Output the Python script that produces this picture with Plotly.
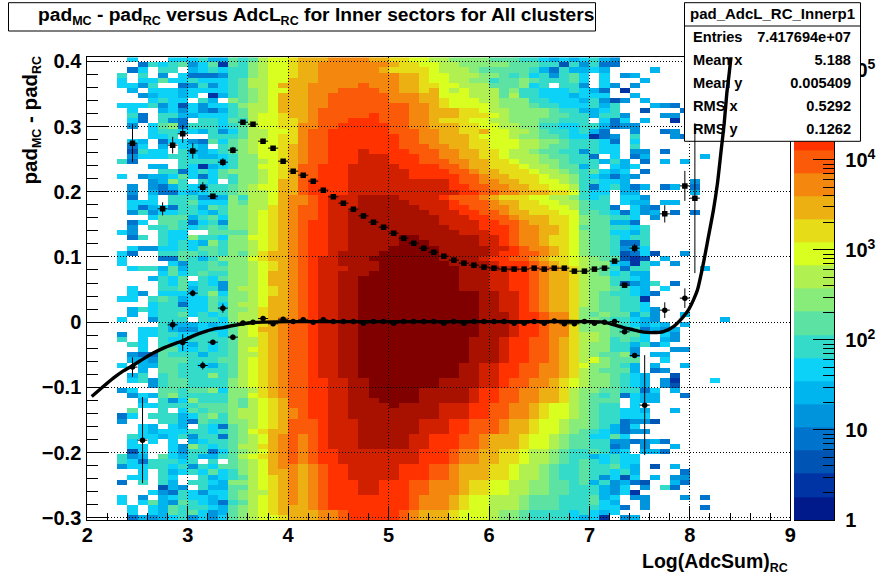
import plotly.graph_objects as go

PALETTE = ["#001a8c","#0033a3","#0054b4","#0074cc","#0094dd","#00b4ee","#0cd2f7","#33dbc8",
           "#5ce2a3","#88ec7a","#b0f050","#d8ff20","#e6dc18","#ecb012","#f4880e","#fb5a08",
           "#ff3200","#d02000","#a81000","#800000"]
LEVEL_CHARS = "0123456789abcdefghij"

# colour level of each cell, top row first. cols 3-20 / 21-48 / 49+
LEFT = [
".6...666755878abbc","..376784681879abbc",".36.77.5676779abbc","7.7.4.63334779abbc",
"6.66866766678aabbd","6647..3474678aabdd",".5.66656666789abbd","..456656.15789abdd",
"...6766.75.989abdd","6667462646679aabdd",".6..564643578aabdd",".73.775566678abbcd",
".63.743.77687abbcc",".4.6893777678abbcc","...6776657468aabbc","...667...7778aabcc",
".65.366438689abbcc",".36.5.665.789abbcd",".2766.7556789abbcd",".4666776556799bbcd",
"73....77776799abcd","...55.76156799bbcd","....7736768999abcd","6.455686368799abcd",
"...4597.76.799abdd",".4.4357657789abbdd",".4.5336567789aabdd",".3.6.77744597aabde",
".666.77866698aabde",".635637758799aacde",".474667765799abcde","...6888578699abcde",
".36.887367499abcde",".4.7787678799abcde","64..766..8888abcde",".37.766977699bbcde",
"....767659799abcde",".644667688799abcde","63..778878798acdde","6...338757999bcdde",
"6....64778799abcde",".677585778899abcde","....686787799abdde","...5768.76899abdde",
"....768676499abdde",".6..77857749aabcde",".64.666679699abcde","66.7875668799abdde",
"...677366869aabdde",".576777668799acdde",".5.677867679aacdde","6..4777.7769aacdee",
"....75556568abcdef","..6675446668abddef","4.6677667768abcdef","7.6.76677778aacdef",
".76.77657678aacdef","..6.88667678abcdef",".43387775778aacdef",".55488877788abcdef",
"6.5588776578abcdef","..5.88777778abcdef",".57.78777978abcdef",".67478877779abcdef",
"...478877779abcdef","46..887889699acdef",".465897777799bcdef","..5.746977798abcdf",
"..66777788898abcdf",".8..7.687889aabcde","36.777568979aabcde","4...775387799abcdf",
"..65.65.76389abcdf","..65666776789bcddf",".766567477389abdef",".6.6.6.567789abdef",
".66..6497678aacdef",".26..64773689abdef","745.86575578abcdef","76377767.7.89abdef",
"4667767476889abdee","..6.756768679abdde",".66.76..75678abcde","3.7.75.776599abcde",
"....254.75588abcde","...6437646689aacde","6.4.567665689abcde","6.68548765378abcde",
".6.6587776589abcdd",".6.6587864589abcdd",".354567464689abbcd",
]
MID = [
"dddeeeeddccbbaa9999888776565","ddeeeeeeedccbbaa999998887727","ddeeeeeedccccbaaa98888875375",
"ddeeeeeeeeddcbbaaa9987867478","ddeeeeeeeeddcbbaa99788987778","deeeeefeeeddccbbaaa888967.77",
"deeeffffeeddcdbabaaa89776667","deeffffffeeeddbbbaaa8a776665","deeffffffeeeddcbbbaa99977666",
"deeffffffffeedcbbbba99987766","defffffffffeedddccbaa9999877","defffffgfffeedddcccba9999887",
"defffgggfffeedcccbbaa9998877","eeffgggggffeedddccbbaa997766","effggggggfffeeddccdbbaa98776",
"effgggggggffeedddcbbba998876","effgggggggffeedddccbbbaa9987","effgggggggfffeeddccbbbaa9887",
"effggghggggfffeeddccbaa98877","effggghhhgggffeeddccbaaa9887","effggghhhgggfffeeddccbaa9987",
"ffggghhhhhggggffeddcccbaa988","ffggghhhhhhggggffeddcccbaa98","ffggghhhhhhgggggffeddcccbaa9",
"fgggghhhhhhhhhhgffeeddccbba9","fgggghhhhhhhhhhggffeeddccbba","fgggghhhhhhhhhhhggffeedddccb",
"efghhhiiiihhhhgfffedcccbbaa9","efghhhiiiiihhhhgfffeddccbbaa","ffghhhiiiiiihhhggffeedcccbba",
"ffghhiiiiiiiihhhggffeddcccbb","ffghhiiiiiiiiihhhggffedddccb","fgghhiiiiiiiiihhhhggffeddccb",
"fgghhiiiiiiiiiihhhgggfeeddcb","fgghhiiiiiiiiiiihhhggfeeddcb","fgghhiiiiijjiiiiiihhgfeedccb",
"fgghhiiiiijjjiiiiihhgfeedccb","fgghhiiiijjjjjiiiiihhgfeedcb","fgghiiiijjjjjjiiiiihggffedcb",
"fghhiiijjjjjjjiiiihggffedccb","fghhiiiijjjjjjjiiiihgggfedcb","fghhhiiijjjjjjjjiiiihhgffedc",
"fghhiiijjjjjjjjjiiihhggfeddc","fghhiijjjjjjjjjjiiihhggfeddc","fghhiijjjjjjjjjjiiihhggfeddc",
"fghhiijjjjjjjjjjiiihhggfeddc","fghhiijjjjjjjjjjjjiihhgfeddc","fghhiijjjjjjjjjjjjiihhgfeddc",
"fghhiijjjjjjjjjjjjiihhgfeddc","fghhiijjjjjjjjjjjjiihhgfeddc","fghhiijjjjjjjjjjjjiiihggfeec",
"fghhiijjjjjjjjjjjjiiihggfeec","fghhiijjjjjjjjjjjjiiihggfeec","fghhiijjjjjjjjjjjjiiihggfeec",
"fghhiijjjjjjjjjjjjiiihggfeec","fghhiijjjjjjjjjjjiiihggffedc","fghhiijjjjjjjjjjjiiihggffedc",
"fghhiijjjjjjjjjjjiiihggffedc","fghhiijjjjjjjjjjjiiihggffedc","fghhiijjjjjjjjjjjiiihggffedc",
"fghhiijjjjjjjjjjiihhggffeedc","fghhiijjjjjjjjjjiihhggffeedc","fghhiijjjjjjjjjjiihhggffeedc",
"fgghhiijjjjjjjiiiihhgffeedcb","fgghhiijjjjjjjiiiihhgffeedcb","fgghhiijjjjjiiiiihggffeeddca",
"fgghhiijjjjjiiiiihggffeeddca","fgghhiiijjjjiiiiihggffeeddca","fgghhiiiijiiiihhhggffeedcbba",
"fgghhiiiiiiiiihhhggffeedcbba","fgghhiiiiiiiiihhhggffeedcbba","ffghhhiiiiiihhhggfffeddcbba9",
"ffghhhiiiiiihhhggfffeddcbba9","ffghhhiiiiiihhhggfffeddcbba9","efghhhiiiiihhgggffedddcbba98",
"efghhhiiiiihhgggffedddcbba98","efghhhiiiiihhgggffedddcbba98","efgghhhhhhhhgggfeeddccbaa987",
"efgghhhhhhhhgggfeeddccbaa987","efgghhhhhhhhgggfeeddccbaa987","defgghhhhhgggffedddccbaa9877",
"defgghhhhhgggffedddccbaa9877","defgghhhhhgggffedddccbaa9877","defggghhgggffeeedccbbaa99887",
"defggghhgggffeeedccbbaa99887","defggghhgggffeeedccbbaa99887","defggggggggfeeedcbbaaa988877",
"defggggggggfeeedcbbaaa988877","defggggggggfeeedcbbaaa988877","ddeefgggggfedddcbbba99877776",
"ddeefgggggfedddcbbba99877776",
]
RIGHT = [
"6754","4733","565....5","6.6.45","6.6...5","4.64.4","653.1","666..5","57424.5","6757...543",
"5567..2...3","75774...44","7.636.5..1","775344","753..4..34","6134.7...43","7763.6","7766.7",
"4766.44.3","73.6.35.....5","77575.3.5.5","57.656","78656.3","765354","77665......4",
"7367535.35.3","766.55.....5","767.664","877.655.55","8773.643","88763645.3.3","988776.4",
"988553","8887767","9886657","9887677","9887337","9887456","98872362..4","a988212.5",
"a9965175.4","a987377.....5","a986755","a997765","a9972457.3","a998765.6","a9877653",
"a988771","a988776","99887764","98988574..5","99877654......5","999876565.5","9998773545",
"aa98886.64","aa97876.54","a99775746","a99774...44","a98894.55","ab9888..6","b99875.5..5",
"a98885.34","a998765..2","a998765.41...6","a998765.42","99887736.5","98783655..3","9888.655",
"9877.6","9877665..5","9877666","98773442","987536","8765344","86686","877443453","87734.4..5",
"78756.553","756766","876766","877865.2.5","877675....3","874626.5.44","8574532..53",
"77546.4.73","775461","7856.44...4.3","7865..4","77663.4.....3","7656","561.45",
]

UPPER_X = [2.45,2.75,2.85,2.95,3.05,3.15,3.25,3.35,3.45,3.55,3.65,3.75,3.85,3.95,4.05,4.15,4.25,
           4.35,4.45,4.55,4.65,4.75,4.85,4.95,5.05,5.15,5.25,5.35,5.45,5.55,5.65,5.75,5.85,5.95,
           6.05,6.15,6.25,6.35,6.45,6.55,6.65,6.75,6.85,6.95,7.05,7.15,7.25,7.35,7.45,7.75,7.95,8.05]
UPPER_Y = [.2745,.1738,.2715,.2888,.2627,.207,.1932,.2454,.2638,.3067,.3037,.2776,.2669,.2469,.2316,.2255,.2163,
           .2024,.1922,.1825,.1733,.163,.1534,.1457,.1365,.1288,.1212,.1135,.1074,.1012,.0951,.0905,.0874,.0844,
           .0828,.0813,.0813,.0813,.0828,.0813,.0828,.0828,.0782,.0782,.0813,.0828,.0936,.0567,.1135,.1661,.209,.1902]
UPPER_E = [.029,.010,.0128,.0138,.0118,.0077,.002,.006,.005,.001,.001,.001,.001,.001,.001,.001,.001,
           .001,.001,.001,.001,.001,.001,.001,.001,.001,.001,.001,.001,.001,.001,.001,.001,.001,
           .001,.001,.001,.001,.001,.001,.001,.001,.001,.001,.001,.001,.001,.001,.0066,.0133,.023,.115]
LOWER_X = [2.45,2.55,2.85,2.95,3.05,3.15,3.25,3.35,3.45,3.55,3.65,3.75,3.85,3.95,4.05,4.15,4.25,
           4.35,4.45,4.55,4.65,4.75,4.85,4.95,5.05,5.15,5.25,5.35,5.45,5.55,5.65,5.75,5.85,5.95,
           6.05,6.15,6.25,6.35,6.45,6.55,6.65,6.75,6.85,6.95,7.05,7.15,7.25,7.35,7.45,7.55,7.75,7.95]
LOWER_Y = [-.069,-.181,-.0041,-.0313,.0445,-.0665,-.0307,.0215,-.023,-.0015,0,.0055,-.0025,.0045,.0008,.0035,0,
           .0035,.0009,.0009,.0009,-.0016,.0009,.0009,-.0016,.0009,.0009,.0009,.0009,-.0016,.0009,-.0016,.0009,.0009,
           .0009,.0009,-.0016,-.0016,.0009,-.0016,.0018,-.0025,-.0025,.0009,-.0016,0,.0009,-.0149,-.0512,-.1273,.0184,.0368]
LOWER_E = [.015,.066,.0077,.0128,.005,.006,.0015,.007,.004,.001,.001,.001,.001,.001,.001,.001,.001,
           .001,.001,.001,.001,.001,.001,.001,.001,.001,.001,.001,.001,.001,.001,.001,.001,.001,
           .001,.001,.001,.001,.001,.001,.001,.001,.001,.001,.001,.001,.001,.002,.002,.0767,.012,.015]
FIT_X = [2.044,2.159,2.259,2.359,2.458,2.558,2.657,2.757,2.857,2.956,3.056,3.155,3.255,3.355,3.454,3.554,3.653,
         3.753,4.0,4.5,5.0,5.5,6.0,6.5,7.0,7.14,7.339,7.438,7.538,7.637,7.737,7.837,7.936,7.986,8.036,8.076,
         8.135,8.185,8.235,8.275,8.312,8.342,8.368,8.388,8.41]
FIT_Y = [-.114,-.0987,-.0859,-.0747,-.066,-.0563,-.0475,-.0399,-.0337,-.0282,-.021,-.0153,-.0107,-.0083,-.0052,-.0026,-.0006,
         0,.0008,.0008,.0008,.0008,.0008,.0008,.0008,0,-.0083,-.0118,-.0153,-.016,-.0144,-.0067,.0086,.0189,.0342,.0495,
         .0905,.1313,.1722,.2132,.2643,.3052,.3512,.3767,.4074]

STATS_LABELS = ["Entries","Mean x","Mean y","RMS x","RMS y"]
STATS_VALUES = ["7.417694e+07","5.188","0.005409","0.5292","0.1262"]
STATS_TITLE = "pad_AdcL_RC_Innerp1"
def sub(t):
    return '<sub><span style="font-size:12.5px">%s</span></sub>' % t
TITLE = "pad%s - pad%s versus AdcL%s for Inner sectors for All clusters" % (sub("MC"), sub("RC"), sub("RC"))
X_LABEL = "Log(AdcSum)" + sub("RC")
Y_LABEL = "pad%s - pad%s" % (sub("MC"), sub("RC"))
BAR_TICKS = [1,10,100,1000,10000,100000]
BAR_TEXT = ["1","10","10<sup>2</sup>","10<sup>3</sup>","10<sup>4</sup>","10<sup>5</sup>"]

W, H = 878, 578
FONT = "Liberation Sans"
BLACK = "#000000"
PX0, PX1, PY0, PY1 = 87.3, 790.3, 57.3, 520.0
XDOM = [PX0/W, PX1/W]
YDOM = [1-PY1/H, 1-PY0/H]
XR = [2.0, 9.0]
YR = [-0.3035, 0.40625]

def to_level(c):
    return None if c == "." else LEVEL_CHARS.index(c)

rows = []
for l, m, r in zip(LEFT, MID, RIGHT):
    s = "..." + l.ljust(18, ".")[:18] + m.ljust(28, ".")[:28] + r
    rows.append([to_level(c) for c in s.ljust(70, ".")[:70]])
rows = rows[::-1]

cs = []
for i, c in enumerate(PALETTE):
    cs += [[i/20, c], [(i+1)/20, c]]

fig = go.Figure()
fig.add_trace(go.Heatmap(z=rows, x0=2.05, dx=0.1, y0=-39/128+1/256, dy=1/128,
                         colorscale=cs, zmin=-0.5, zmax=19.5, showscale=False,
                         hoverongaps=False, xaxis="x", yaxis="y"))
fig.add_trace(go.Scatter(x=[None], y=[None], xaxis="x2", yaxis="y2", showlegend=False))
BAR_TOP = 5.14
edges = [10**(BAR_TOP*i/20) for i in range(21)]
fig.add_trace(go.Heatmap(z=[[i] for i in range(20)], x=[0, 1], y=edges,
                         colorscale=cs, zmin=-0.5, zmax=19.5, showscale=False,
                         xaxis="x3", yaxis="y3"))
BX0, BX1, BY0, BY1, BYH = 684.5, 860.5, 2.7, 141.3, 26
fig.add_trace(go.Scatter(x=[BX0,BX1,BX1,BX0,BX0,BX0,BX1], y=[BY0,BY0,BY1,BY1,BY0,BYH,BYH],
                         mode="lines", line=dict(color=BLACK, width=1), fill="toself",
                         fillcolor="white", xaxis="x4", yaxis="y4", showlegend=False))
STAT_Y = [38, 61, 84, 107, 130]
sfont = dict(family=FONT, size=14.6, color=BLACK, weight=700)
fig.add_trace(go.Scatter(x=[(BX0+BX1)/2], y=[15], text=[STATS_TITLE], mode="text",
                         textposition="middle center", textfont=dict(family=FONT, size=15, color=BLACK, weight=700),
                         xaxis="x4", yaxis="y4", showlegend=False))
fig.add_trace(go.Scatter(x=[693]*5, y=STAT_Y, text=STATS_LABELS, mode="text", textposition="middle right",
                         textfont=sfont, xaxis="x4", yaxis="y4", showlegend=False))
fig.add_trace(go.Scatter(x=[851]*5, y=STAT_Y, text=STATS_VALUES, mode="text", textposition="middle left",
                         textfont=sfont, xaxis="x4", yaxis="y4", showlegend=False))
for xs, ys, es, sym in [(UPPER_X, UPPER_Y, UPPER_E, "square"), (LOWER_X, LOWER_Y, LOWER_E, "circle")]:
    fig.add_trace(go.Scatter(x=xs, y=ys, mode="markers", marker=dict(color=BLACK, size=5.5, symbol=sym),
                             error_y=dict(type="data", array=es, color=BLACK, thickness=1, width=0),
                             error_x=dict(type="constant", value=0.05, color=BLACK, thickness=1, width=0),
                             xaxis="x5", yaxis="y5", showlegend=False))
fig.add_trace(go.Scatter(x=FIT_X, y=FIT_Y, mode="lines", line=dict(color=BLACK, width=3.4, shape="spline", smoothing=0.6),
                         xaxis="x5", yaxis="y5", showlegend=False))

tick = dict(family=FONT, size=20, color=BLACK, weight=700)
hidden = dict(visible=False, showgrid=False, zeroline=False)
DOTS = "1px,2px"
fig.update_layout(
    width=W, height=H, margin=dict(l=0, r=0, t=0, b=0, autoexpand=False),
    paper_bgcolor="white", plot_bgcolor="rgba(0,0,0,0)", showlegend=False,
    xaxis=dict(domain=XDOM, range=XR, dtick=1, tick0=2, ticks="inside", ticklen=14, tickcolor=BLACK,
               showline=True, linecolor=BLACK, linewidth=1, mirror=True, showgrid=False, zeroline=False,
               tickfont=tick, minor=dict(dtick=0.2, ticks="inside", ticklen=7, tickcolor=BLACK, showgrid=False),
               anchor="y", ticklabelstandoff=-3),
    yaxis=dict(domain=YDOM, range=YR, tickvals=[-.3,-.2,-.1,0,.1,.2,.3,.4], ticks="inside", ticklen=22, tickcolor=BLACK,
               showline=True, linecolor=BLACK, linewidth=1, mirror=True, showgrid=False, zeroline=False,
               tickfont=tick, minor=dict(tickvals=[-.3+.02*i for i in range(36)], ticks="inside", ticklen=11,
                                         tickcolor=BLACK, showgrid=False),
               anchor="x", ticklabelstandoff=1),
    xaxis2=dict(domain=XDOM, range=XR, tickvals=[3,4,5,6,7,8], showticklabels=False, ticks="", showgrid=True,
                griddash=DOTS, gridcolor=BLACK, gridwidth=1, zeroline=False, anchor="y2"),
    yaxis2=dict(domain=YDOM, range=YR, tickvals=[-.3,-.2,-.1,0,.1,.2,.3,.4], showticklabels=False, ticks="", showgrid=True,
                griddash=DOTS, gridcolor=BLACK, gridwidth=1, zeroline=False, anchor="x2"),
    xaxis3=dict(domain=[794/W, 834.3/W], range=[0, 1], showticklabels=False, ticks="", showgrid=False, zeroline=False,
                showline=True, linecolor=BLACK, linewidth=1, anchor="y3"),
    yaxis3=dict(domain=YDOM, type="log", range=[0, BAR_TOP], side="right", tickvals=BAR_TICKS, ticktext=BAR_TEXT,
                ticks="inside", ticklen=21, tickcolor=BLACK, tickfont=tick, showgrid=False, zeroline=False,
                showline=True, linecolor=BLACK, linewidth=1, anchor="x3", ticklabelstandoff=6,
                minor=dict(tickvals=[m*10**e for e in range(5) for m in range(2, 10)], ticks="inside",
                           ticklen=11, tickcolor=BLACK, showgrid=False)),
    xaxis4=dict(domain=[0, 1], range=[0, W], anchor="y4", **hidden),
    yaxis4=dict(domain=[0, 1], range=[H, 0], anchor="x4", **hidden),
    xaxis5=dict(domain=XDOM, range=XR, anchor="y5", **hidden),
    yaxis5=dict(domain=YDOM, range=YR, anchor="x5", **hidden),
    shapes=[dict(type="rect", xref="paper", yref="paper", x0=8.5/W, x1=595.5/W, y0=1-31/H, y1=1-2.7/H,
                 line=dict(color=BLACK, width=1))],
    annotations=[
        dict(text=TITLE, xref="paper", yref="paper", x=36/W, y=1-16/H, xanchor="left", yanchor="middle",
             showarrow=False, font=dict(family=FONT, size=19.2, color=BLACK, weight=700)),
        dict(text=X_LABEL, xref="paper", yref="paper", x=790/W, y=1-562/H, xanchor="right", yanchor="middle",
             showarrow=False, font=dict(family=FONT, size=19.5, color=BLACK, weight=700)),
        dict(text=Y_LABEL, xref="paper", yref="paper", x=30/W, y=1-54/H, xanchor="center", yanchor="top",
             textangle=-90, showarrow=False, font=dict(family=FONT, size=20.5, color=BLACK, weight=700)),
    ],
)
fig.write_html("out.html", config={"displayModeBar": False}, post_script="document.body.style.margin='0';")
